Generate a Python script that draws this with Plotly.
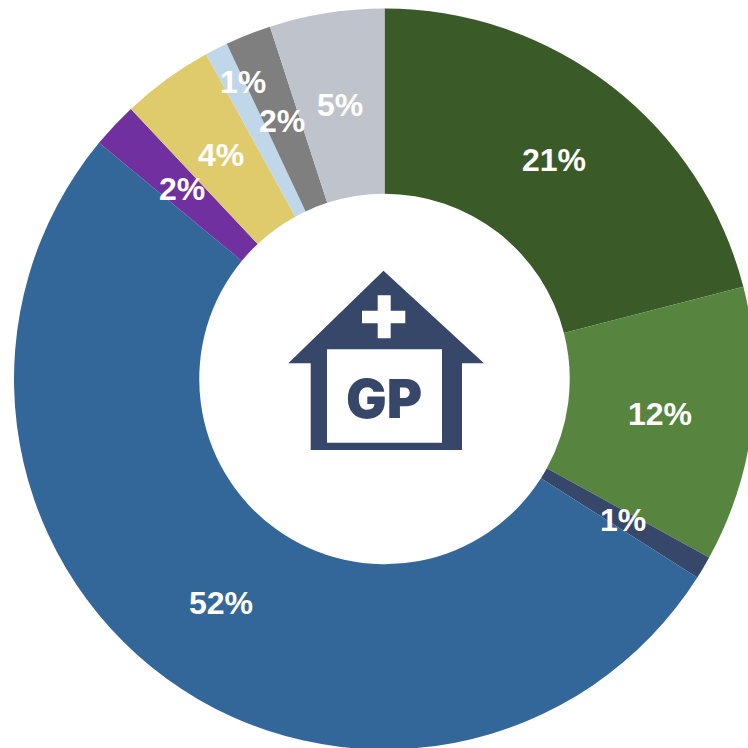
import plotly.graph_objects as go

categories = ["A", "B", "C", "D", "E", "F", "G", "H", "I"]
values = [21, 12, 1, 52, 2, 4, 1, 2, 5]
colors = ["#3a5a28", "#578540", "#36476a", "#336799", "#7030a0", "#dfcb6b", "#bfd7e8", "#7f7f7f", "#bfc4cc"]
label_px = [(554, 160), (660, 414), (623, 520), (221, 603), (182, 189), (221, 155), (243, 82), (282, 121), (340, 105)]

W = 756
FONT = "Liberation Sans"
NAVY = "#36476a"

def fx(px):
    return px / W

def fy(py):
    return 1 - py / W

fig = go.Figure(go.Pie(
    labels=categories, values=values, sort=False, direction="clockwise", rotation=0,
    hole=0.5, marker=dict(colors=colors, line=dict(width=0)),
    textinfo="none", hoverinfo="label+percent", showlegend=False,
    domain=dict(x=[fx(14), fx(755)], y=[fy(749.5), fy(8.5)]),
))

def poly(points, color):
    path = "M " + " L ".join(f"{fx(x):.5f},{fy(y):.5f}" for x, y in points) + " Z"
    return dict(type="path", xref="paper", yref="paper", path=path, fillcolor=color, line=dict(width=0))

house = [(383.5, 270.7), (484, 363.3), (462, 363.3), (462, 450), (310.7, 450), (310.7, 363.3), (288.3, 363.3)]
room = [(327, 349.3), (442, 349.3), (442, 442.7), (327, 442.7)]
cross = [(377.7, 295.3), (390.7, 295.3), (390.7, 310.7), (405.3, 310.7), (405.3, 323.3), (390.7, 323.3),
         (390.7, 338.3), (377.7, 338.3), (377.7, 323.3), (362, 323.3), (362, 310.7), (377.7, 310.7)]

annotations = [
    dict(text="GP", x=fx(383.7), y=fy(398.7), xref="paper", yref="paper", showarrow=False,
         xanchor="center", yanchor="middle", font=dict(family="Inter", size=54, color=NAVY, weight=900)),
]
for v, (px, py) in zip(values, label_px):
    annotations.append(dict(text=f"{v}%", x=fx(px), y=fy(py), xref="paper", yref="paper", showarrow=False,
                            xanchor="center", yanchor="middle",
                            font=dict(family=FONT, size=32, color="white", weight="bold")))

fig.update_layout(
    width=W, height=W, margin=dict(l=0, r=0, t=0, b=0),
    paper_bgcolor="white", plot_bgcolor="white",
    shapes=[poly(house, NAVY), poly(room, "white"), poly(cross, "white")],
    annotations=annotations,
)
fig.write_html("out.html", config={"displayModeBar": False},
               post_script="document.documentElement.style.overflow='hidden';document.body.style.overflow='hidden';document.body.style.margin='0';")
